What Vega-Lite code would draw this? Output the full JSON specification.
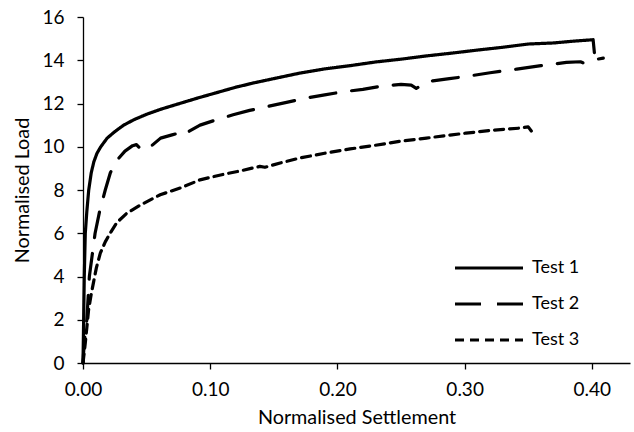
{
  "$schema": "https://vega.github.io/schema/vega-lite/v6.json",
  "width": 547,
  "height": 346,
  "autosize": {"type": "none"},
  "padding": {"left": 83, "top": 17, "right": 4, "bottom": 69},
  "background": "white",
  "config": {"view": {"stroke": null}, "font": "Lato"},
  "data": {"values": [
    {"test": "Test 1", "settlement": 0, "load": 0},
    {"test": "Test 1", "settlement": 0.0005, "load": 2},
    {"test": "Test 1", "settlement": 0.001, "load": 4},
    {"test": "Test 1", "settlement": 0.0018, "load": 6},
    {"test": "Test 1", "settlement": 0.003, "load": 7},
    {"test": "Test 1", "settlement": 0.0045, "load": 8},
    {"test": "Test 1", "settlement": 0.0065, "load": 8.8},
    {"test": "Test 1", "settlement": 0.0085, "load": 9.3},
    {"test": "Test 1", "settlement": 0.011, "load": 9.7},
    {"test": "Test 1", "settlement": 0.014, "load": 10.0},
    {"test": "Test 1", "settlement": 0.019, "load": 10.4},
    {"test": "Test 1", "settlement": 0.025, "load": 10.7},
    {"test": "Test 1", "settlement": 0.032, "load": 11.0},
    {"test": "Test 1", "settlement": 0.04, "load": 11.25},
    {"test": "Test 1", "settlement": 0.05, "load": 11.5},
    {"test": "Test 1", "settlement": 0.062, "load": 11.75},
    {"test": "Test 1", "settlement": 0.076, "load": 12.0},
    {"test": "Test 1", "settlement": 0.09, "load": 12.25},
    {"test": "Test 1", "settlement": 0.105, "load": 12.5},
    {"test": "Test 1", "settlement": 0.12, "load": 12.75},
    {"test": "Test 1", "settlement": 0.134, "load": 12.95},
    {"test": "Test 1", "settlement": 0.15, "load": 13.15},
    {"test": "Test 1", "settlement": 0.17, "load": 13.4},
    {"test": "Test 1", "settlement": 0.19, "load": 13.6},
    {"test": "Test 1", "settlement": 0.21, "load": 13.75},
    {"test": "Test 1", "settlement": 0.23, "load": 13.92},
    {"test": "Test 1", "settlement": 0.25, "load": 14.05},
    {"test": "Test 1", "settlement": 0.27, "load": 14.2},
    {"test": "Test 1", "settlement": 0.29, "load": 14.33},
    {"test": "Test 1", "settlement": 0.31, "load": 14.47},
    {"test": "Test 1", "settlement": 0.33, "load": 14.6},
    {"test": "Test 1", "settlement": 0.35, "load": 14.75},
    {"test": "Test 1", "settlement": 0.37, "load": 14.8},
    {"test": "Test 1", "settlement": 0.385, "load": 14.88},
    {"test": "Test 1", "settlement": 0.401, "load": 14.95},
    {"test": "Test 1", "settlement": 0.402, "load": 14.35},
    {"test": "Test 2", "settlement": 0, "load": 0},
    {"test": "Test 2", "settlement": 0.001, "load": 1},
    {"test": "Test 2", "settlement": 0.003, "load": 2},
    {"test": "Test 2", "settlement": 0.005, "load": 4},
    {"test": "Test 2", "settlement": 0.0095, "load": 6},
    {"test": "Test 2", "settlement": 0.013, "load": 7},
    {"test": "Test 2", "settlement": 0.0175, "load": 8},
    {"test": "Test 2", "settlement": 0.0215, "load": 8.8},
    {"test": "Test 2", "settlement": 0.027, "load": 9.4},
    {"test": "Test 2", "settlement": 0.033, "load": 9.8},
    {"test": "Test 2", "settlement": 0.039, "load": 10.05},
    {"test": "Test 2", "settlement": 0.042, "load": 10.1},
    {"test": "Test 2", "settlement": 0.046, "load": 9.85},
    {"test": "Test 2", "settlement": 0.052, "load": 9.95},
    {"test": "Test 2", "settlement": 0.061, "load": 10.4},
    {"test": "Test 2", "settlement": 0.07, "load": 10.55},
    {"test": "Test 2", "settlement": 0.0765, "load": 10.65},
    {"test": "Test 2", "settlement": 0.079, "load": 10.55},
    {"test": "Test 2", "settlement": 0.083, "load": 10.7},
    {"test": "Test 2", "settlement": 0.092, "load": 11.0},
    {"test": "Test 2", "settlement": 0.105, "load": 11.25},
    {"test": "Test 2", "settlement": 0.118, "load": 11.48},
    {"test": "Test 2", "settlement": 0.131, "load": 11.68},
    {"test": "Test 2", "settlement": 0.145, "load": 11.86},
    {"test": "Test 2", "settlement": 0.16, "load": 12.05},
    {"test": "Test 2", "settlement": 0.175, "load": 12.25},
    {"test": "Test 2", "settlement": 0.19, "load": 12.4},
    {"test": "Test 2", "settlement": 0.205, "load": 12.55},
    {"test": "Test 2", "settlement": 0.22, "load": 12.65},
    {"test": "Test 2", "settlement": 0.236, "load": 12.82},
    {"test": "Test 2", "settlement": 0.25, "load": 12.88},
    {"test": "Test 2", "settlement": 0.258, "load": 12.85},
    {"test": "Test 2", "settlement": 0.262, "load": 12.7},
    {"test": "Test 2", "settlement": 0.268, "load": 12.9},
    {"test": "Test 2", "settlement": 0.275, "load": 13.05},
    {"test": "Test 2", "settlement": 0.288, "load": 13.15},
    {"test": "Test 2", "settlement": 0.301, "load": 13.25},
    {"test": "Test 2", "settlement": 0.32, "load": 13.42},
    {"test": "Test 2", "settlement": 0.341, "load": 13.59},
    {"test": "Test 2", "settlement": 0.36, "load": 13.75},
    {"test": "Test 2", "settlement": 0.38, "load": 13.9},
    {"test": "Test 2", "settlement": 0.391, "load": 13.93},
    {"test": "Test 2", "settlement": 0.393, "load": 13.88},
    {"test": "Test 2", "settlement": 0.4, "load": 14.0},
    {"test": "Test 2", "settlement": 0.409, "load": 14.1},
    {"test": "Test 3", "settlement": 0, "load": 0},
    {"test": "Test 3", "settlement": 0.0018, "load": 0.92},
    {"test": "Test 3", "settlement": 0.0044, "load": 2.46},
    {"test": "Test 3", "settlement": 0.0065, "load": 3.2},
    {"test": "Test 3", "settlement": 0.0085, "load": 3.8},
    {"test": "Test 3", "settlement": 0.0105, "load": 4.4},
    {"test": "Test 3", "settlement": 0.0136, "load": 5.08},
    {"test": "Test 3", "settlement": 0.0175, "load": 5.6},
    {"test": "Test 3", "settlement": 0.0214, "load": 6.01},
    {"test": "Test 3", "settlement": 0.0267, "load": 6.5},
    {"test": "Test 3", "settlement": 0.0345, "load": 6.93},
    {"test": "Test 3", "settlement": 0.045, "load": 7.3},
    {"test": "Test 3", "settlement": 0.0607, "load": 7.78},
    {"test": "Test 3", "settlement": 0.0764, "load": 8.09},
    {"test": "Test 3", "settlement": 0.092, "load": 8.47},
    {"test": "Test 3", "settlement": 0.11, "load": 8.72},
    {"test": "Test 3", "settlement": 0.125, "load": 8.9},
    {"test": "Test 3", "settlement": 0.132, "load": 9.0},
    {"test": "Test 3", "settlement": 0.139, "load": 9.09},
    {"test": "Test 3", "settlement": 0.143, "load": 9.05},
    {"test": "Test 3", "settlement": 0.155, "load": 9.25},
    {"test": "Test 3", "settlement": 0.1706, "load": 9.48},
    {"test": "Test 3", "settlement": 0.19, "load": 9.7},
    {"test": "Test 3", "settlement": 0.21, "load": 9.9},
    {"test": "Test 3", "settlement": 0.23, "load": 10.07},
    {"test": "Test 3", "settlement": 0.249, "load": 10.25},
    {"test": "Test 3", "settlement": 0.27, "load": 10.4},
    {"test": "Test 3", "settlement": 0.29, "load": 10.55},
    {"test": "Test 3", "settlement": 0.301, "load": 10.63},
    {"test": "Test 3", "settlement": 0.32, "load": 10.75},
    {"test": "Test 3", "settlement": 0.343, "load": 10.86},
    {"test": "Test 3", "settlement": 0.35, "load": 10.92},
    {"test": "Test 3", "settlement": 0.353, "load": 10.68}
  ]},
  "mark": {"type": "line", "strokeWidth": 3.2, "color": "black", "strokeCap": "round", "strokeJoin": "round"},
  "encoding": {
    "x": {
      "field": "settlement", "type": "quantitative",
      "scale": {"domain": [0, 0.43], "nice": false, "zero": false},
      "axis": {
        "title": "Normalised Settlement", "values": [0, 0.1, 0.2, 0.3, 0.4], "format": ".2f",
        "grid": false, "domainColor": "black", "domainWidth": 1.3, "tickColor": "black", "tickWidth": 1.3, "tickSize": 6,
        "labelFontSize": 19, "labelColor": "black", "labelPadding": 11, "labelFlush": false,
        "titleFontSize": 19.8, "titleFontWeight": "normal", "titleColor": "black", "titleY": 60, "titleBaseline": "alphabetic"
      }
    },
    "y": {
      "field": "load", "type": "quantitative",
      "scale": {"domain": [0, 16], "nice": false},
      "axis": {
        "title": "Normalised Load", "values": [0, 2, 4, 6, 8, 10, 12, 14, 16],
        "grid": false, "domainColor": "black", "domainWidth": 1.3, "tickColor": "black", "tickWidth": 1.3, "tickSize": 6,
        "labelFontSize": 19, "labelColor": "black", "labelPadding": 13, "labelFlush": false,
        "titleFontSize": 19.8, "titleFontWeight": "normal", "titleColor": "black", "titleX": -55, "titleBaseline": "alphabetic"
      }
    },
    "strokeDash": {
      "field": "test", "type": "nominal",
      "scale": {"domain": ["Test 1", "Test 2", "Test 3"], "range": [[1, 0], [26, 16], [9, 6]]},
      "legend": {
        "title": null, "orient": "none", "legendX": 370, "legendY": 233, "padding": 0,
        "symbolType": "stroke", "symbolSize": 4624, "symbolStrokeWidth": 3.2, "symbolStrokeColor": "black",
        "labelFontSize": 18, "labelColor": "black", "labelOffset": 7, "rowPadding": 0, "clipHeight": 36
      }
    }
  }
}
